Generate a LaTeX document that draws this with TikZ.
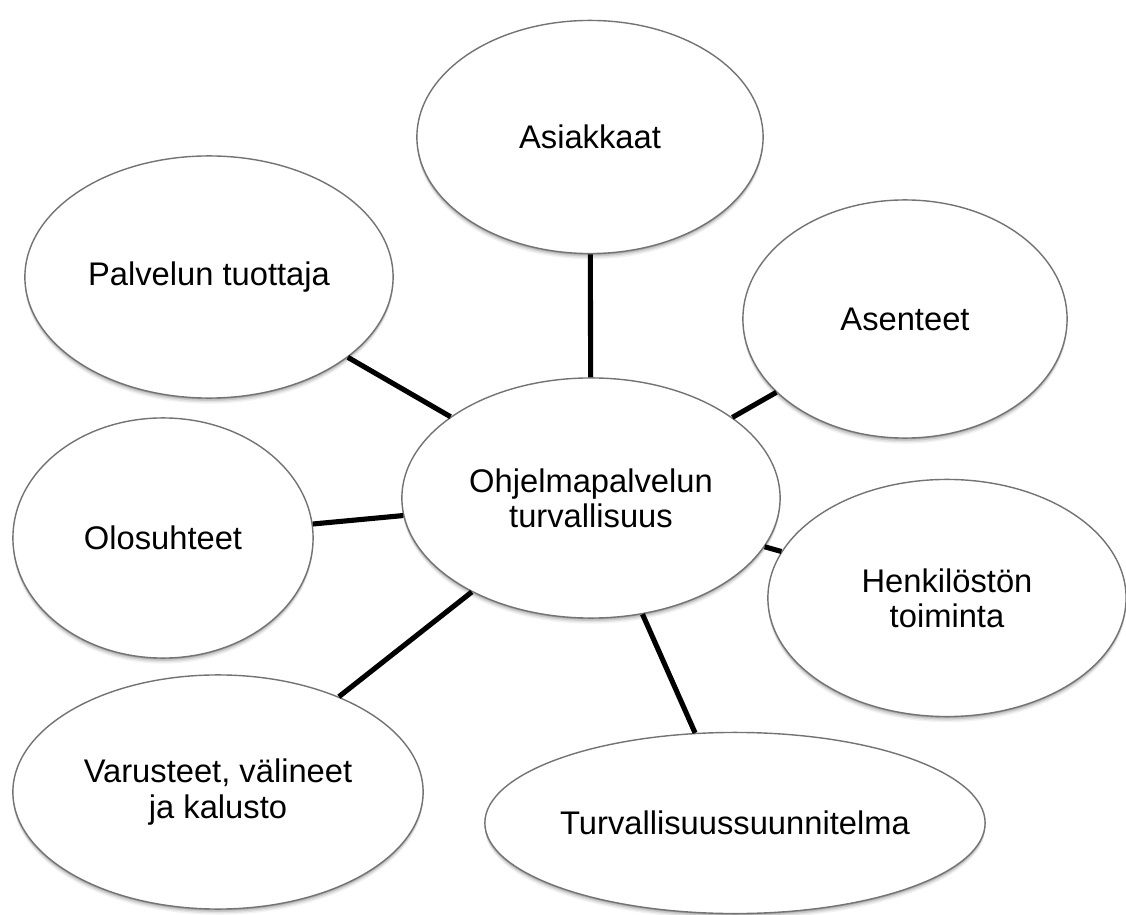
\documentclass[tikz,border=0pt]{standalone}
\usepackage{fontspec}
\setmainfont{Liberation Sans}
\usetikzlibrary{shapes.geometric,shadows}
\begin{document}
\begin{tikzpicture}[x=0.01cm,y=-0.01cm,
  bubble/.style={ellipse,draw=black!55,line width=0.4pt,
    fill=white,inner sep=0pt,align=center,
    font=\fontsize{9.3pt}{10pt}\selectfont,
    general shadow={shadow yshift=-1.6pt,fill=black,opacity=0.05},
    general shadow={shadow yshift=-1.2pt,fill=black,opacity=0.07},
    general shadow={shadow yshift=-0.8pt,fill=black,opacity=0.10},
    general shadow={shadow yshift=-0.4pt,fill=black,opacity=0.14}},
  link/.style={line width=1.45pt,black}]
\useasboundingbox (0,0) rectangle (1126,915);
\node[bubble,minimum width=3.78cm,minimum height=2.40cm] (c) at (591,498) {Ohjelmapalvelun\\turvallisuus};
\node[bubble,minimum width=3.46cm,minimum height=2.33cm] (asiak) at (590,137) {Asiakkaat};
\node[bubble,minimum width=3.68cm,minimum height=2.42cm] (palv) at (209,277) {Palvelun tuottaja};
\node[bubble,minimum width=3.24cm,minimum height=2.38cm] (asen) at (905,319) {Asenteet};
\node[bubble,minimum width=3.00cm,minimum height=2.40cm] (olo) at (163,538) {Olosuhteet};
\node[bubble,minimum width=3.58cm,minimum height=2.37cm] (henk) at (947,598) {Henkilöstön\\toiminta};
\node[bubble,minimum width=4.10cm,minimum height=2.34cm] (varu) at (218,792) {Varusteet, välineet\\ja kalusto};
\node[bubble,minimum width=5.00cm,minimum height=1.81cm] (turv) at (735,823) {Turvallisuussuunnitelma};
\draw[link] (c) -- (asiak);
\draw[link] (c) -- (palv);
\draw[link] (c) -- (asen);
\draw[link] (c) -- (olo);
\draw[link] (c) -- (henk);
\draw[link] (c) -- (varu);
\draw[link] (c) -- (turv);
\end{tikzpicture}
\end{document}
